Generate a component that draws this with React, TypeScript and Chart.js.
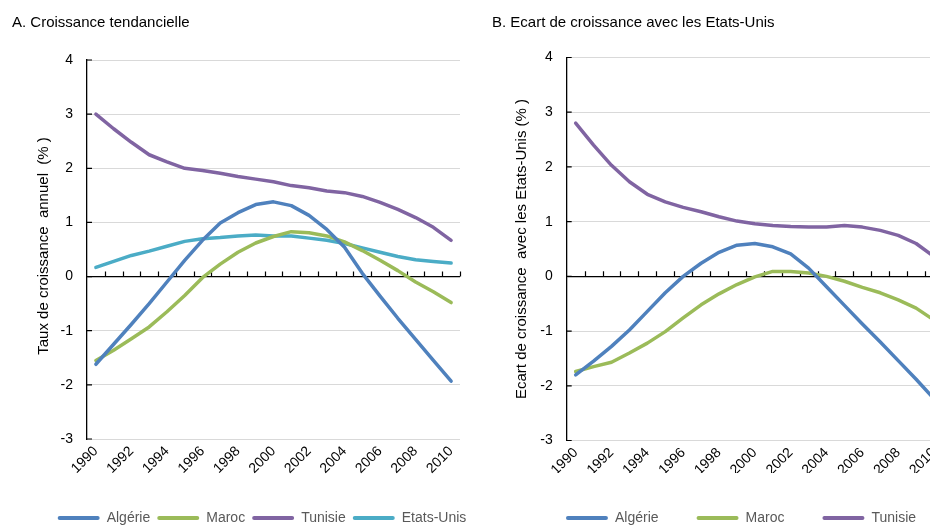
import React, { useEffect, useRef } from 'react';
import { Chart, registerables } from 'chart.js';

Chart.register(...registerables);

const FONT = '"Liberation Sans", Arial, sans-serif';

const years = ['1990', '1991', '1992', '1993', '1994', '1995', '1996', '1997', '1998', '1999', '2000',
  '2001', '2002', '2003', '2004', '2005', '2006', '2007', '2008', '2009', '2010'];

// Panel A: croissance tendancielle (%)
const algerieA = [-1.62, -1.25, -0.88, -0.5, -0.1, 0.3, 0.67, 0.99, 1.18, 1.33, 1.38, 1.31, 1.13, 0.87, 0.54, 0.06, -0.36, -0.77, -1.16, -1.55, -1.93];
const marocA = [-1.55, -1.36, -1.15, -0.93, -0.65, -0.35, -0.02, 0.23, 0.45, 0.62, 0.74, 0.83, 0.81, 0.75, 0.64, 0.48, 0.3, 0.11, -0.1, -0.28, -0.48];
const tunisieA = [3.0, 2.73, 2.48, 2.25, 2.12, 2.0, 1.96, 1.91, 1.85, 1.8, 1.75, 1.68, 1.64, 1.58, 1.55, 1.48, 1.37, 1.24, 1.09, 0.91, 0.67];
const etatsUnisA = [0.17, 0.28, 0.39, 0.47, 0.56, 0.65, 0.7, 0.72, 0.75, 0.77, 0.75, 0.75, 0.71, 0.67, 0.61, 0.53, 0.45, 0.37, 0.31, 0.28, 0.25];

// Panel B: écart de croissance avec les Etats-Unis (%)
const algerieB = [-1.8, -1.55, -1.28, -0.98, -0.64, -0.3, 0.0, 0.24, 0.44, 0.57, 0.6, 0.54, 0.41, 0.15, -0.19, -0.53, -0.87, -1.2, -1.54, -1.88, -2.24];
const marocB = [-1.74, -1.65, -1.57, -1.4, -1.22, -1.01, -0.76, -0.52, -0.32, -0.15, -0.01, 0.09, 0.09, 0.06, 0.0, -0.09, -0.2, -0.3, -0.43, -0.58, -0.8];
const tunisieB = [2.8, 2.4, 2.03, 1.73, 1.5, 1.36, 1.26, 1.18, 1.09, 1.01, 0.96, 0.93, 0.91, 0.9, 0.9, 0.93, 0.9, 0.84, 0.75, 0.6, 0.36];

const yTicks = [-3, -2, -1, 0, 1, 2, 3, 4];

const BLUE = '#4f81bd';
const GREEN = '#9bbb59';
const PURPLE = '#8064a2';
const CYAN = '#4bacc6';

const decorPlugin = {
  id: 'decor',
  beforeDatasetsDraw(chart: any) {
    const { ctx, chartArea, scales } = chart;
    const x = scales.x;
    const y = scales.y;
    const y0 = y.getPixelForValue(0);
    const step = x.getPixelForValue(1) - x.getPixelForValue(0);
    ctx.save();
    ctx.strokeStyle = '#000';
    ctx.lineWidth = 1.2;
    ctx.beginPath();
    for (let k = 0; k < years.length; k++) {
      const px = Math.round(x.getPixelForValue(k) + step / 2) + 0.5;
      ctx.moveTo(px, y0);
      ctx.lineTo(px, y0 - 5);
    }
    for (const t of y.ticks) {
      const py = y.getPixelForValue(t.value);
      ctx.moveTo(chartArea.left, py);
      ctx.lineTo(chartArea.left + 5, py);
    }
    ctx.stroke();
    ctx.restore();
  },
  afterDraw(chart: any, _args: any, opts: any) {
    const { ctx } = chart;
    ctx.save();
    ctx.fillStyle = '#000';
    ctx.font = `15px ${FONT}`;
    ctx.textAlign = 'left';
    ctx.textBaseline = 'middle';
    ctx.fillText(opts.title, opts.titleX, 23);
    ctx.font = `15px ${FONT}`;
    ctx.translate(opts.yTitleX, opts.yTitleY);
    ctx.rotate(-Math.PI / 2);
    ctx.textAlign = 'center';
    ctx.fillText(opts.yTitle, 0, 0);
    ctx.restore();
  },
};

function makeDataset(label: string, data: number[], color: string) {
  return {
    label,
    data,
    borderColor: color,
    backgroundColor: color,
    borderWidth: 3.5,
    pointRadius: 0,
    pointHoverRadius: 0,
    tension: 0,
    borderCapStyle: 'round',
    borderJoinStyle: 'round',
  };
}

function makeConfig(p: any) {
  return {
    type: 'line',
    data: {
      labels: years,
      datasets: p.datasets,
    },
    plugins: [decorPlugin],
    options: {
      responsive: false,
      animation: false,
      layout: { padding: { left: p.padL, right: 0, top: p.padT, bottom: 0 } },
      plugins: {
        tooltip: { enabled: false },
        title: { display: false },
        decor: { title: p.title, titleX: p.titleX, yTitle: p.yTitle, yTitleX: p.yTitleX, yTitleY: p.yTitleY },
        legend: {
          display: true,
          position: 'bottom',
          labels: {
            boxWidth: 42,
            boxHeight: 4,
            padding: p.legendPad,
            color: '#595959',
            useBorderRadius: true,
            borderRadius: 2,
            font: { size: 14, family: FONT },
            generateLabels: (chart: any) =>
              chart.data.datasets.map((d: any, i: number) => ({
                text: d.label,
                fillStyle: d.borderColor,
                strokeStyle: d.borderColor,
                lineWidth: 0,
                hidden: false,
                datasetIndex: i,
                borderRadius: 2,
                fontColor: '#595959',
              })),
          },
        },
      },
      scales: {
        x: {
          type: 'category',
          offset: true,
          grid: { display: false, drawTicks: false },
          border: { display: false },
          ticks: {
            autoSkip: false,
            maxRotation: 45,
            minRotation: 45,
            padding: 4,
            color: '#000',
            font: { size: 14, family: FONT },
            callback: (_v: any, i: number) => (i % 2 === 0 ? years[i] : ''),
          },
          afterFit: (s: any) => {
            s.height = p.xH;
          },
        },
        y: {
          min: -3,
          max: 4,
          afterBuildTicks: (s: any) => {
            s.ticks = yTicks.map((v) => ({ value: v }));
          },
          ticks: {
            color: '#000',
            padding: 14,
            font: { size: 14, family: FONT },
          },
          grid: {
            color: (c: any) => (c.tick && c.tick.value === 0 ? '#000' : '#d9d9d9'),
            lineWidth: (c: any) => (c.tick && c.tick.value === 0 ? 1.3 : 1),
            drawTicks: false,
          },
          border: { display: true, color: '#000', width: 1.3 },
          afterFit: (s: any) => {
            s.width = p.yW;
          },
        },
        spacer: {
          type: 'linear',
          position: 'right',
          display: true,
          grid: { display: false, drawOnChartArea: false, drawTicks: false },
          border: { display: false },
          ticks: { display: false },
          afterFit: (s: any) => {
            s.width = p.spacerW;
          },
        },
      },
    },
  };
}

function ChartCanvas({ cfg, width, height, left }: any) {
  const ref = useRef<HTMLCanvasElement>(null);
  useEffect(() => {
    const chart = new Chart(ref.current as HTMLCanvasElement, makeConfig(cfg) as any);
    return () => chart.destroy();
  }, []);
  return (
    <canvas
      ref={ref}
      width={width}
      height={height}
      style={{ position: 'absolute', left, top: 0, width, height }}
    />
  );
}

const cfgA = {
  datasets: [
    makeDataset('Algérie', algerieA, BLUE),
    makeDataset('Maroc', marocA, GREEN),
    makeDataset('Tunisie', tunisieA, PURPLE),
    makeDataset('Etats-Unis', etatsUnisA, CYAN),
  ],
  padL: 34,
  padT: 60,
  yW: 53,
  spacerW: 30,
  xH: 65,
  legendPad: 7,
  title: 'A. Croissance tendancielle',
  titleX: 12,
  yTitle: 'Taux de croissance  annuel  (% )',
  yTitleX: 44,
  yTitleY: 246,
};

const cfgB = {
  datasets: [
    makeDataset('Algérie', algerieB, BLUE),
    makeDataset('Maroc', marocB, GREEN),
    makeDataset('Tunisie', tunisieB, PURPLE),
  ],
  padL: 40,
  padT: 57.5,
  yW: 56.7,
  spacerW: 29,
  xH: 32.5,
  legendPad: 38,
  title: 'B. Ecart de croissance avec les Etats-Unis',
  titleX: 22,
  yTitle: 'Ecart de croissance  avec les Etats-Unis (% )',
  yTitleX: 52,
  yTitleY: 249,
};

export default function App() {
  return (
    <div
      style={{
        position: 'fixed',
        left: 0,
        top: 0,
        width: 930,
        height: 527,
        overflow: 'hidden',
        background: '#fff',
      }}
    >
      <ChartCanvas cfg={cfgA} width={490} height={535} left={0} />
      <ChartCanvas cfg={cfgB} width={502} height={535} left={470} />
    </div>
  );
}
